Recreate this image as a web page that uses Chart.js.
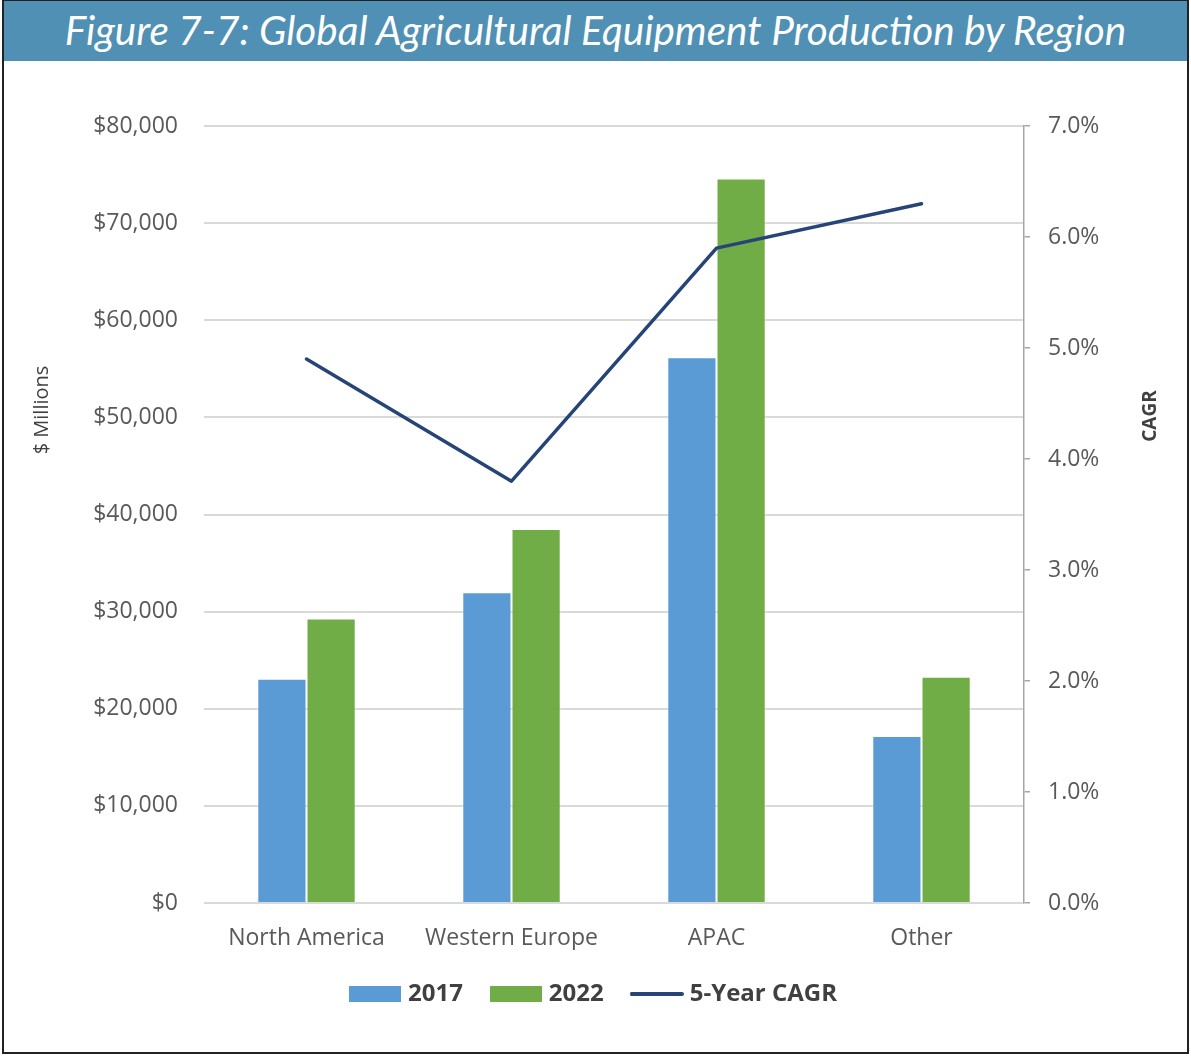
<!DOCTYPE html>
<html>
<head>
<meta charset="utf-8">
<title>Global Agricultural Equipment Production by Region</title>
<script src="https://cdn.jsdelivr.net/npm/chart.js@4.4.1/dist/chart.umd.min.js"></script>
<style>
    html, body { margin: 0; padding: 0; background: #fff; }
    #frame { position: relative; width: 1191px; height: 1056px; overflow: hidden; }
    #frame canvas { position: absolute; left: 0; top: 0; }
    #edge {
        position: absolute; left: 2px; top: 0; right: 2px; bottom: 2px;
        border: 2px solid #222; border-top-width: 1px; pointer-events: none; z-index: 3;
    }
    #banner {
        position: absolute; left: 2px; top: 0; right: 2px; height: 61px;
        background: #4f90b4; color: #fff; z-index: 2;
        font: italic 40.5px Lato, 'Open Sans', sans-serif;
        line-height: 60px; text-align: center; white-space: nowrap;
    }
</style>
</head>
<body>
<div id="frame">
    <div id="banner">Figure 7-7: Global Agricultural Equipment Production by Region</div>
    <canvas id="chart" width="1191" height="1056"></canvas>
    <div id="edge"></div>
</div>
<script>
const regions = ['North America', 'Western Europe', 'APAC', 'Other'];
const production2017 = [23100, 32000, 56200, 17200];
const production2022 = [29300, 38500, 74600, 23300];
const cagrPct = [4.9, 3.8, 5.9, 6.3];

const BLUE = '#5b9bd5';
const GREEN = '#70ad47';
const NAVY = '#264478';
const TICK = '#595959';
const LABEL = '#404040';

// small bitmap used as a legend marker
function swatch(w, h, color) {
    const c = document.createElement('canvas');
    c.width = w;
    c.height = h;
    const g = c.getContext('2d');
    g.fillStyle = color;
    if (h < 6) {
        g.fillRect(1, 0, w - 2, h);
        g.beginPath();
        g.arc(h / 2, h / 2, h / 2, 0, Math.PI * 2);
        g.arc(w - h / 2, h / 2, h / 2, 0, Math.PI * 2);
        g.fill();
    } else {
        g.fillRect(0, 0, w, h);
    }
    return c;
}

const markers = [swatch(52, 16, BLUE), swatch(52, 16, GREEN), swatch(54, 4, NAVY)];

// rotated axis captions, placed off the plot area
const axisCaptions = {
    id: 'axisCaptions',
    afterDraw(chart) {
        const { ctx, chartArea } = chart;
        ctx.save();
        ctx.fillStyle = LABEL;
        ctx.textAlign = 'center';
        ctx.textBaseline = 'middle';

        ctx.font = '20px "Open Sans"';
        ctx.translate(chartArea.left - 162, chartArea.top + 284);
        ctx.rotate(-Math.PI / 2);
        ctx.fillText('$ Millions', 0, 0);
        ctx.restore();

        ctx.save();
        ctx.fillStyle = LABEL;
        ctx.textAlign = 'center';
        ctx.textBaseline = 'middle';
        ctx.font = 'bold 19px "Open Sans"';
        ctx.translate(chartArea.right + 127, chartArea.top + 290);
        ctx.rotate(-Math.PI / 2);
        ctx.fillText('CAGR', 0, 0);
        ctx.restore();
    }
};

const tickFont = { family: '"Open Sans"', size: 23 };

new Chart(document.getElementById('chart'), {
    type: 'bar',
    data: {
        labels: regions,
        datasets: [
            {
                label: '2017',
                data: production2017,
                backgroundColor: BLUE,
                borderColor: 'rgba(255,255,255,0.45)',
                borderWidth: 1,
                yAxisID: 'y',
                order: 1,
            },
            {
                label: '2022',
                data: production2022,
                backgroundColor: GREEN,
                borderColor: 'rgba(255,255,255,0.45)',
                borderWidth: 1,
                yAxisID: 'y',
                order: 1,
            },
            {
                type: 'line',
                label: '5-Year CAGR',
                data: cagrPct,
                borderColor: NAVY,
                borderWidth: 3.5,
                borderCapStyle: 'round',
                borderJoinStyle: 'round',
                pointRadius: 0,
                tension: 0,
                fill: false,
                yAxisID: 'y1',
                order: 0,
            },
        ],
    },
    options: {
        responsive: false,
        animation: false,
        datasets: {
            bar: { categoryPercentage: 0.48, barPercentage: 1 },
        },
        layout: { padding: { top: 126, left: 0, right: 0, bottom: 40 } },
        plugins: {
            tooltip: { enabled: false },
            legend: {
                position: 'bottom',
                labels: {
                    usePointStyle: true,
                    pointStyleWidth: 42,
                    padding: 32,
                    color: LABEL,
                    font: { family: '"Open Sans"', size: 24, weight: 'bold' },
                    generateLabels: (chart) => chart.data.datasets.map((ds, i) => ({
                        text: ds.label,
                        pointStyle: markers[i],
                        fillStyle: 'transparent',
                        strokeStyle: 'transparent',
                        lineWidth: 0,
                        fontColor: LABEL,
                        datasetIndex: i,
                        hidden: false,
                    })),
                },
            },
        },
        scales: {
            x: {
                grid: { display: false },
                border: { display: false },
                ticks: { color: TICK, font: tickFont, padding: 14 },
                afterFit: (s) => { s.height = 47; },
            },
            y: {
                position: 'left',
                min: 0,
                max: 80000,
                grid: { color: '#d9d9d9', lineWidth: 2, drawTicks: false },
                border: { display: false },
                ticks: {
                    stepSize: 10000,
                    color: TICK,
                    font: tickFont,
                    padding: 26,
                    callback: (v) => '$' + v.toLocaleString('en-US'),
                },
                afterFit: (s) => { s.width = 204; },
            },
            y1: {
                position: 'right',
                min: 0,
                max: 7,
                grid: { drawOnChartArea: false, color: '#a6a6a6', tickLength: 6, lineWidth: 1.5 },
                border: { display: true, color: '#a6a6a6', width: 1.5 },
                ticks: {
                    stepSize: 1,
                    color: TICK,
                    font: tickFont,
                    padding: 18,
                    callback: (v) => v.toFixed(1) + '%',
                },
                afterFit: (s) => { s.width = 167; },
            },
        },
    },
    plugins: [axisCaptions],
});
</script>
</body>
</html>
